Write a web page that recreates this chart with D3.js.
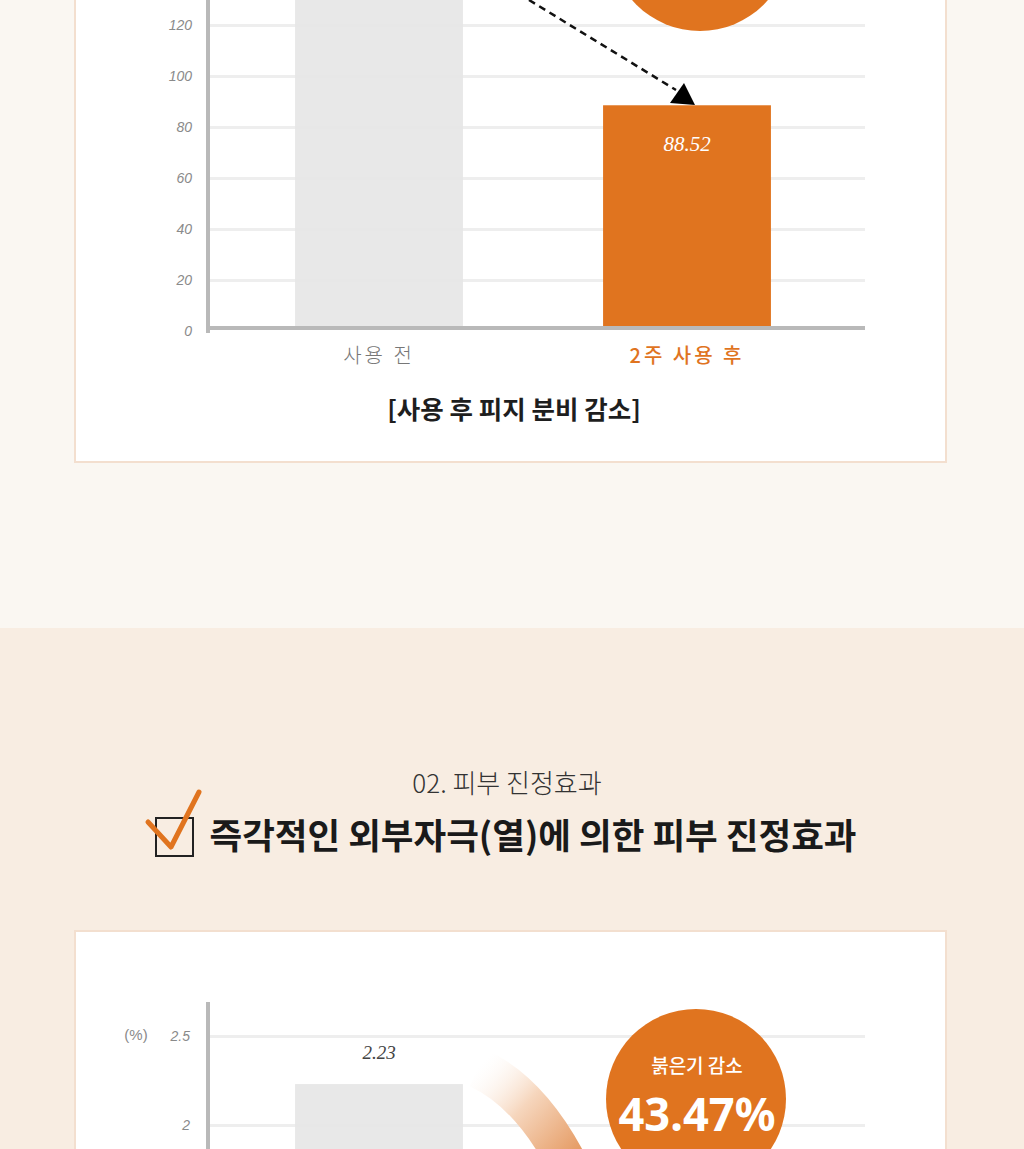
<!DOCTYPE html>
<html>
<head>
<meta charset="utf-8">
<script src="https://cdn.jsdelivr.net/npm/d3@7"></script>
<style>
  html, body { margin: 0; padding: 0; background: #faf7f2; }
  svg { display: block; }
</style>
</head>
<body>
<div id="chart"></div>
<script>
// chart 1: sebum (top part of the page, cut off at the top)
var sebumCats = ["사용 전", "2주 사용 후"];
var sebumValues = [140, 88.52];
var sebumTicks = [0, 20, 40, 60, 80, 100, 120];
var sebumTitle = "[사용 후 피지 분비 감소]";

// chart 2: redness (cut off at the bottom)
var rednessCats = ["사용 전", "2주 사용 후"];
var rednessValues = [2.23, 1.26];
var rednessTicks = [2, 2.5];
var rednessBadge = ["붉은기 감소", "43.47%"];

var sectionNo = "02. 피부 진정효과";
var sectionHead = "즉각적인 외부자극(열)에 의한 피부 진정효과";

var width = 1024;
var height = 1149;
var orange = "#e0741f";
var barGrey = "#e6e6e6";
var axisGrey = "#b9b9b9";
var gridGrey = "#eeeeee";
var kr = "'Noto Sans CJK KR', 'Noto Sans', sans-serif";

var svg = d3.select("#chart").append("svg")
            .attr("width", width)
            .attr("height", height);

var defs = svg.append("defs");
var grad = defs.append("linearGradient")
               .attr("id", "swoosh")
               .attr("x1", "0%").attr("y1", "0%")
               .attr("x2", "100%").attr("y2", "100%");
grad.append("stop").attr("offset", "0%").attr("stop-color", "#ffffff").attr("stop-opacity", 0.2);
grad.append("stop").attr("offset", "45%").attr("stop-color", "#f6d6bd");
grad.append("stop").attr("offset", "100%").attr("stop-color", "#e59a62");

// backgrounds
svg.append("rect").attr("x", 0).attr("y", 0)
   .attr("width", width).attr("height", 628)
   .attr("fill", "#faf7f2");
svg.append("rect").attr("x", 0).attr("y", 628)
   .attr("width", width).attr("height", height - 628)
   .attr("fill", "#f8ede2");

// white cards
svg.append("rect").attr("x", 75).attr("y", -10)
   .attr("width", 871).attr("height", 472)
   .attr("fill", "#ffffff").attr("stroke", "#f3dfcf").attr("stroke-width", 2);
svg.append("rect").attr("x", 75).attr("y", 931)
   .attr("width", 871).attr("height", 260)
   .attr("fill", "#ffffff").attr("stroke", "#f3dfcf").attr("stroke-width", 2);

// shared band scale
var x = d3.scaleBand().domain(sebumCats)
          .range([225, 841])
          .paddingInner(0.455)
          .paddingOuter(0.2275);

var gridLeft = 208;
var gridRight = 865;

// ---------- chart 1 ----------
var y1 = d3.scaleLinear().domain([0, 120]).range([331, 25]);

var grid1 = svg.append("g")
               .attr("transform", "translate(" + gridRight + ",0)")
               .call(d3.axisLeft(y1).tickValues(sebumTicks.slice(1))
                     .tickSize(gridRight - gridLeft).tickFormat(""));
grid1.select(".domain").remove();
grid1.selectAll("line").attr("stroke", gridGrey).attr("stroke-width", 3);

var bars1 = svg.selectAll(".bar1").data(sebumValues).enter().append("rect")
               .attr("class", "bar1")
               .attr("x", function(d, i){ return x(sebumCats[i]); })
               .attr("y", function(d){ return y1(d); })
               .attr("width", x.bandwidth())
               .attr("height", function(d){ return y1(0) - y1(d) - 4; })
               .attr("fill", function(d, i){ return i == 0 ? barGrey : orange; })
               .attr("opacity", function(d, i){ return i == 0 ? 0.92 : 1; });

var yAxis1 = svg.append("g")
                .attr("transform", "translate(" + gridLeft + ",0)")
                .call(d3.axisLeft(y1).tickValues(sebumTicks).tickSize(0).tickPadding(16));
yAxis1.select(".domain").remove();
yAxis1.selectAll("text")
      .attr("fill", "#8a8a8a")
      .style("font-family", "'Liberation Sans', sans-serif")
      .style("font-style", "italic")
      .style("font-size", "14px");

svg.append("line")
   .attr("x1", gridLeft).attr("y1", -5)
   .attr("x2", gridLeft).attr("y2", 333)
   .attr("stroke", axisGrey).attr("stroke-width", 4);
svg.append("line")
   .attr("x1", gridLeft).attr("y1", y1(0) - 3)
   .attr("x2", gridRight).attr("y2", y1(0) - 3)
   .attr("stroke", axisGrey).attr("stroke-width", 4);

// value label inside the orange bar
svg.append("text")
   .attr("x", x(sebumCats[1]) + x.bandwidth() / 2)
   .attr("y", y1(sebumValues[1]) + 46)
   .attr("text-anchor", "middle")
   .attr("fill", "#ffffff")
   .style("font-family", "'Liberation Serif', serif")
   .style("font-style", "italic")
   .style("font-size", "21px")
   .text(sebumValues[1]);

// category labels
svg.selectAll(".cat1").data(sebumCats).enter().append("text")
   .attr("class", "cat1")
   .attr("x", function(d){ return x(d) + x.bandwidth() / 2; })
   .attr("y", 363)
   .attr("text-anchor", "middle")
   .attr("fill", function(d, i){ return i == 0 ? "#777777" : orange; })
   .style("font-family", kr)
   .style("font-weight", function(d, i){ return i == 0 ? 300 : 500; })
   .style("font-size", "20px")
   .style("letter-spacing", "3px")
   .text(function(d){ return d; });

svg.append("text")
   .attr("x", 514).attr("y", 419)
   .attr("text-anchor", "middle")
   .attr("fill", "#1e1e1e")
   .style("font-family", kr)
   .style("font-weight", 700)
   .style("font-size", "25.5px")
   .text(sebumTitle);

// orange badge (cut at the top) and dashed arrow
svg.append("circle").attr("cx", 700).attr("cy", -59).attr("r", 90).attr("fill", orange);
svg.append("line")
   .attr("x1", 529).attr("y1", 0)
   .attr("x2", 676).attr("y2", 90)
   .attr("stroke", "#111").attr("stroke-width", 2.5)
   .attr("stroke-dasharray", "7,5");
svg.append("path")
   .attr("d", "M684,83 L670,103 L695,105 Z")
   .attr("fill", "#000");

// ---------- section heading ----------
svg.append("text")
   .attr("x", 507).attr("y", 793)
   .attr("text-anchor", "middle")
   .attr("fill", "#333333")
   .style("font-family", kr)
   .style("font-weight", 300)
   .style("font-size", "26px")
   .text(sectionNo);

svg.append("rect")
   .attr("x", 156).attr("y", 818)
   .attr("width", 37).attr("height", 38)
   .attr("fill", "none").attr("stroke", "#222").attr("stroke-width", 2);
svg.append("path")
   .attr("d", "M148,822 L171,847 L199,792")
   .attr("fill", "none").attr("stroke", "#e0741f")
   .attr("stroke-width", 5).attr("stroke-linecap", "round")
   .attr("stroke-linejoin", "round");

svg.append("text")
   .attr("x", 533).attr("y", 849)
   .attr("text-anchor", "middle")
   .attr("fill", "#1a1a1a")
   .style("font-family", kr)
   .style("font-weight", 700)
   .style("font-size", "35.5px")
   .text(sectionHead);

// ---------- chart 2 ----------
var y2 = d3.scaleLinear().domain([2, 2.5]).range([1125, 1036]);

var grid2 = svg.append("g")
               .attr("transform", "translate(" + gridRight + ",0)")
               .call(d3.axisLeft(y2).tickValues(rednessTicks)
                     .tickSize(gridRight - gridLeft).tickFormat(""));
grid2.select(".domain").remove();
grid2.selectAll("line").attr("stroke", gridGrey).attr("stroke-width", 3);

svg.selectAll(".bar2").data(rednessValues).enter().append("rect")
   .attr("class", "bar2")
   .attr("x", function(d, i){ return x(sebumCats[i]); })
   .attr("y", function(d){ return y2(d); })
   .attr("width", x.bandwidth())
   .attr("height", function(d){ return y2(0) - y2(d); })
   .attr("fill", function(d, i){ return i == 0 ? barGrey : orange; })
   .attr("opacity", function(d, i){ return i == 0 ? 0.92 : 1; });

var yAxis2 = svg.append("g")
                .attr("transform", "translate(" + gridLeft + ",0)")
                .call(d3.axisLeft(y2).tickValues(rednessTicks).tickSize(0).tickPadding(18)
                      .tickFormat(function(d){ return d; }));
yAxis2.select(".domain").remove();
yAxis2.selectAll("text")
      .attr("fill", "#8a8a8a")
      .style("font-family", "'Liberation Sans', sans-serif")
      .style("font-style", "italic")
      .style("font-size", "14px");

svg.append("text")
   .attr("x", 136).attr("y", 1040)
   .attr("text-anchor", "middle")
   .attr("fill", "#8a8a8a")
   .style("font-family", "'Liberation Sans', sans-serif")
   .style("font-size", "15px")
   .text("(%)");

svg.append("line")
   .attr("x1", gridLeft).attr("y1", 1002)
   .attr("x2", gridLeft).attr("y2", height + 5)
   .attr("stroke", axisGrey).attr("stroke-width", 4);

svg.append("text")
   .attr("x", x(rednessCats[0]) + x.bandwidth() / 2)
   .attr("y", y2(rednessValues[0]) - 25)
   .attr("text-anchor", "middle")
   .attr("fill", "#444")
   .style("font-family", "'Liberation Serif', serif")
   .style("font-style", "italic")
   .style("font-size", "19px")
   .text(d3.format(".2f")(rednessValues[0]));

// gradient swoosh
svg.append("path")
   .attr("d", "M478,1068 Q530,1092 568,1165")
   .attr("fill", "none")
   .attr("stroke", "url(#swoosh)")
   .attr("stroke-width", 40);

// badge
svg.append("circle").attr("cx", 696).attr("cy", 1099).attr("r", 90).attr("fill", orange);
svg.append("text")
   .attr("x", 697).attr("y", 1073)
   .attr("text-anchor", "middle")
   .attr("fill", "#ffffff")
   .style("font-family", kr)
   .style("font-weight", 500)
   .style("font-size", "19px")
   .text(rednessBadge[0]);
svg.append("text")
   .attr("x", 697).attr("y", 1131)
   .attr("text-anchor", "middle")
   .attr("fill", "#ffffff")
   .attr("textLength", 157)
   .attr("lengthAdjust", "spacingAndGlyphs")
   .style("font-family", "'Noto Sans', sans-serif")
   .style("font-weight", 700)
   .style("font-size", "47px")
   .text(rednessBadge[1]);
</script>
</body>
</html>
